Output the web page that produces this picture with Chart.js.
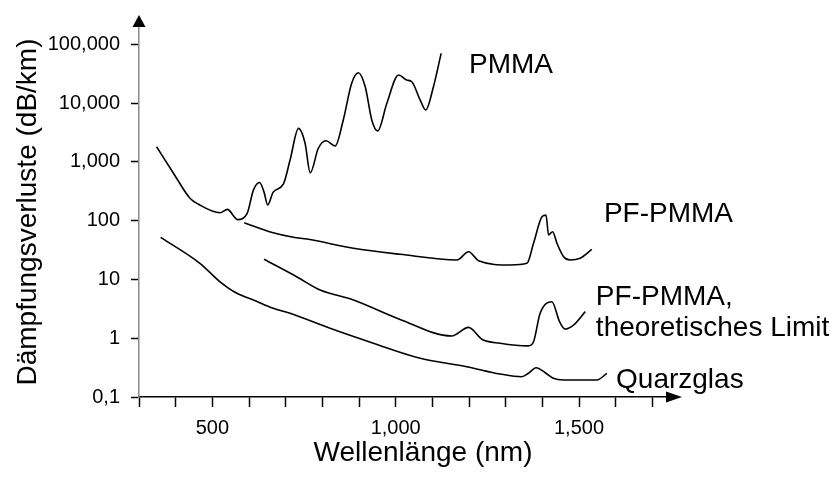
<!DOCTYPE html>
<html>
<head>
<meta charset="utf-8">
<script src="https://cdn.jsdelivr.net/npm/chart.js@4.4.1/dist/chart.umd.min.js"></script>
<style>
  html, body { margin: 0; padding: 0; background: #fff; }
  canvas { display: block; }
</style>
</head>
<body>
<canvas id="lossChart" width="837" height="477"></canvas>
<script>
// wavelengths (nm) and losses (dB/km)
const pmmaNm = [348, 394, 439, 462, 521, 541, 569, 595, 612, 629, 641, 651, 666, 694, 712, 735, 753, 767, 789, 810, 835, 857, 880, 898, 917, 935, 951, 976, 1008, 1030, 1044, 1067, 1082, 1103, 1124];
const pmmaLoss = [1800, 640, 240, 190, 136, 155, 104, 133, 330, 445, 305, 185, 305, 420, 1070, 3700, 2060, 650, 1700, 2280, 1860, 5100, 21600, 32700, 18900, 5100, 3340, 9900, 29900, 24600, 23000, 11200, 7600, 18900, 70000];

const pfNm = [587, 666, 721, 758, 885, 1012, 1167, 1199, 1226, 1312, 1358, 1376, 1399, 1410, 1417, 1428, 1440, 1458, 1476, 1503, 1535];
const pfLoss = [92, 62, 52, 48.6, 33.8, 26.7, 21.4, 29.6, 20.8, 17.6, 18.8, 41, 116, 124, 57, 64.7, 41, 24.3, 21.4, 22.9, 32.5];

const limitNm = [641, 730, 794, 885, 1012, 1153, 1199, 1235, 1285, 1362, 1376, 1394, 1426, 1447, 1462, 1485, 1517];
const limitLoss = [22, 11.1, 6.6, 4.47, 2.09, 1.09, 1.53, 0.96, 0.82, 0.74, 0.87, 2.65, 4.18, 1.91, 1.43, 1.67, 2.83];

const quartzNm = [359, 466, 521, 567, 612, 666, 712, 821, 939, 1067, 1194, 1285, 1344, 1362, 1383, 1408, 1430, 1458, 1549, 1576];
const quartzLoss = [52, 18.8, 9.1, 5.8, 4.47, 3.22, 2.65, 1.47, 0.82, 0.455, 0.327, 0.246, 0.221, 0.253, 0.315, 0.259, 0.208, 0.195, 0.195, 0.253];

const xTickValues = [300, 400, 500, 600, 700, 800, 900, 1000, 1100, 1200, 1300, 1400, 1500, 1600, 1700];
const xTickLabels = { 500: '500', 1000: '1,000', 1500: '1,500' };
const yTickValues = [0.1, 1, 10, 100, 1000, 10000, 100000];
const yTickLabels = ['0,1', '1', '10', '100', '1,000', '10,000', '100,000'];

// curve names, anchored in data units (left edge, baseline)
const curveNames = [
  { lines: ['PMMA'], nm: 1200, loss: 32400 },
  { lines: ['PF-PMMA'], nm: 1568, loss: 95 },
  { lines: ['PF-PMMA,', 'theoretisches Limit'], nm: 1546, loss: 3.67 },
  { lines: ['Quarzglas'], nm: 1601, loss: 0.142 }
];

const FONT = "'Liberation Sans', Arial, Helvetica, sans-serif";

function toPoints(xs, ys) {
  return xs.map((x, i) => ({ x: x, y: ys[i] }));
}

function curve(label, xs, ys) {
  return {
    label: label,
    data: toPoints(xs, ys),
    borderColor: '#000',
    borderWidth: 1.6,
    pointRadius: 0,
    fill: false,
    cubicInterpolationMode: 'monotone'
  };
}

const decorations = {
  id: 'decorations',
  afterDraw(chart) {
    const ctx = chart.ctx;
    const area = chart.chartArea;
    const xs = chart.scales.x;
    const ys = chart.scales.y;
    ctx.save();
    ctx.fillStyle = '#000';

    // arrow heads on both axes
    ctx.beginPath();
    ctx.moveTo(area.left, area.top - 11);
    ctx.lineTo(area.left - 6.5, area.top + 1);
    ctx.lineTo(area.left + 6.5, area.top + 1);
    ctx.closePath();
    ctx.fill();
    ctx.beginPath();
    ctx.moveTo(area.right + 15, area.bottom);
    ctx.lineTo(area.right - 1, area.bottom - 5.5);
    ctx.lineTo(area.right - 1, area.bottom + 5.5);
    ctx.closePath();
    ctx.fill();

    // curve names
    ctx.font = '28px ' + FONT;
    ctx.textAlign = 'left';
    ctx.textBaseline = 'alphabetic';
    curveNames.forEach(n => {
      const px = xs.getPixelForValue(n.nm);
      const py = ys.getPixelForValue(n.loss);
      n.lines.forEach((line, i) => {
        ctx.fillText(line, px, py + i * 31.5);
      });
    });

    // axis titles
    ctx.font = '28px ' + FONT;
    ctx.textAlign = 'center';
    ctx.fillText('Wellenlänge (nm)', 423, 461);
    ctx.translate(36, 212);
    ctx.rotate(-Math.PI / 2);
    ctx.fillText('Dämpfungsverluste (dB/km)', 0, 0);
    ctx.restore();
  }
};

new Chart(document.getElementById('lossChart'), {
  type: 'line',
  data: {
    datasets: [
      curve('PMMA', pmmaNm, pmmaLoss),
      curve('PF-PMMA', pfNm, pfLoss),
      curve('PF-PMMA, theoretisches Limit', limitNm, limitLoss),
      curve('Quarzglas', quartzNm, quartzLoss)
    ]
  },
  options: {
    responsive: false,
    animation: false,
    devicePixelRatio: 1,
    layout: { padding: { top: 26, right: 170, bottom: 0, left: 0 } },
    plugins: {
      legend: { display: false },
      tooltip: { enabled: false }
    },
    scales: {
      x: {
        type: 'linear',
        min: 300,
        max: 1740,
        afterBuildTicks: scale => { scale.ticks = xTickValues.map(v => ({ value: v })); },
        afterFit: scale => { scale.height = 80; },
        ticks: {
          autoSkip: false,
          maxRotation: 0,
          padding: 9,
          color: '#000',
          font: { family: FONT, size: 20 },
          callback: value => xTickLabels[value] || ''
        },
        grid: {
          drawOnChartArea: false,
          drawTicks: true,
          tickLength: 10,
          tickColor: '#000',
          tickWidth: 1.5
        },
        border: { display: true, color: '#000', width: 1.5 }
      },
      y: {
        type: 'logarithmic',
        min: 0.1,
        max: 204000,
        afterBuildTicks: scale => { scale.ticks = yTickValues.map(v => ({ value: v })); },
        afterFit: scale => { scale.width = 139; },
        ticks: {
          autoSkip: false,
          padding: 11,
          color: '#000',
          font: { family: FONT, size: 20 },
          callback: (value, index) => yTickLabels[index]
        },
        grid: {
          drawOnChartArea: false,
          drawTicks: true,
          tickLength: 8,
          tickColor: '#000',
          tickWidth: 1.5
        },
        border: { display: true, color: '#8a8a8a', width: 1.5 }
      }
    }
  },
  plugins: [decorations]
});
</script>
</body>
</html>
